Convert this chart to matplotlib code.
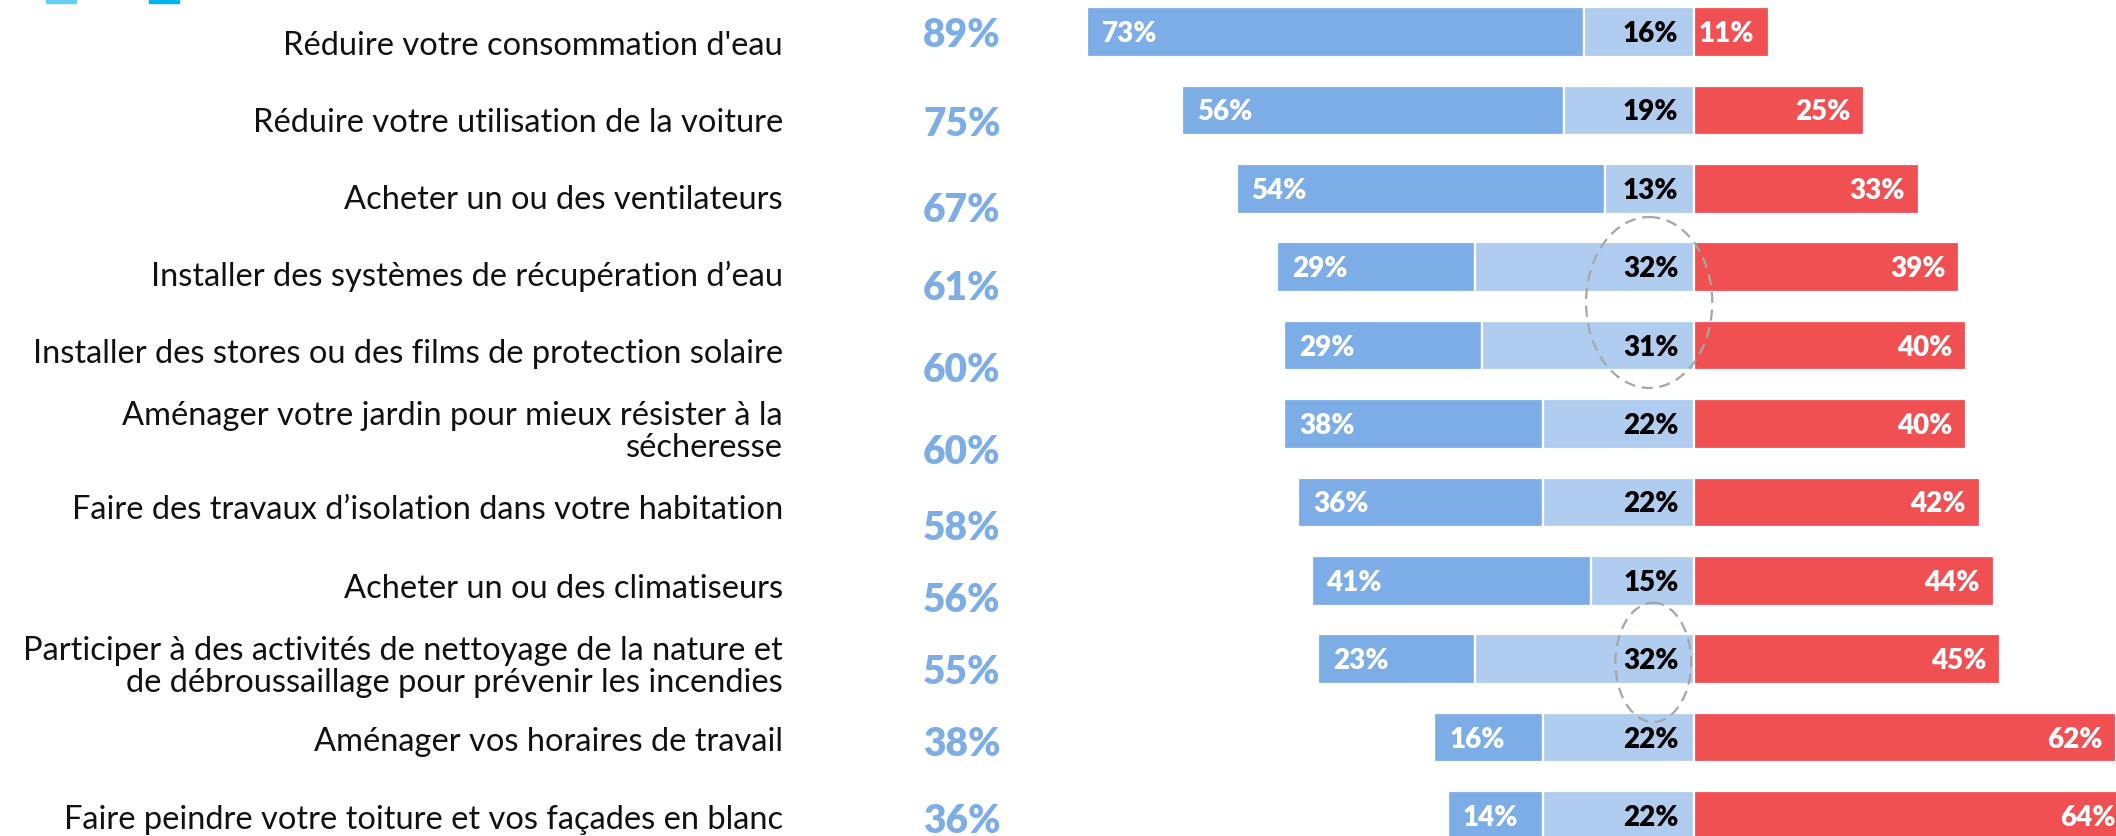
import matplotlib
matplotlib.use("Agg")
import matplotlib.pyplot as plt
from matplotlib.patches import Ellipse, Rectangle
from matplotlib.transforms import offset_copy

# ---------------- data ----------------
categories = [
    "Réduire votre consommation d'eau",
    "Réduire votre utilisation de la voiture",
    "Acheter un ou des ventilateurs",
    "Installer des systèmes de récupération d’eau",
    "Installer des stores ou des films de protection solaire",
    "Aménager votre jardin pour mieux résister à la\nsécheresse",
    "Faire des travaux d’isolation dans votre habitation",
    "Acheter un ou des climatiseurs",
    "Participer à des activités de nettoyage de la nature et\nde débroussaillage pour prévenir les incendies",
    "Aménager vos horaires de travail",
    "Faire peindre votre toiture et vos façades en blanc",
]
oui_deja = [73, 56, 54, 29, 29, 38, 36, 41, 23, 16, 14]
oui_envisage = [16, 19, 13, 32, 31, 22, 22, 15, 32, 22, 22]
non = [11, 25, 33, 39, 40, 40, 42, 44, 45, 62, 64]
totals = [89, 75, 67, 61, 60, 60, 58, 56, 55, 38, 36]

# ---------------- layout ----------------
W, H = 2116, 836
C_BLUE = "#7DADE6"
C_LIGHT = "#B0CDF0"
C_RED = "#F05052"

fig = plt.figure(figsize=(W / 100, H / 100), dpi=100)
ax = fig.add_axes([0, 0, 1, 1])
ax.set_axis_off()

px_per_pct = 6.82
x0 = 1693.5
row0 = 32.0
row_h = 78.4
ax.set_xlim(-x0 / px_per_pct, (W - x0) / px_per_pct)
ax.set_ylim((H - row0) / row_h, -row0 / row_h)

ypos = list(range(len(categories)))
bh = 49.5 / row_h
edge = dict(edgecolor="white", linewidth=1.6)

left_blue = [-(a + b) for a, b in zip(oui_deja, oui_envisage)]
left_light = [-b for b in oui_envisage]
ax.barh(ypos, oui_deja, left=left_blue, height=bh, color=C_BLUE, **edge)
ax.barh(ypos, oui_envisage, left=left_light, height=bh, color=C_LIGHT, **edge)
ax.barh(ypos, non, left=0, height=bh, color=C_RED, **edge)

bar_font = dict(family=["Lato", "DejaVu Sans"], fontweight="heavy", fontsize=20)
base_off = -10  # px: baseline below bar centre


def tr(dx, dy):
    return offset_copy(ax.transData, fig=fig, x=dx, y=dy, units="dots")


for i in ypos:
    ax.text(left_blue[i], i, f"{oui_deja[i]}%", transform=tr(15, base_off),
            ha="left", va="baseline", color="white", **bar_font)
    ax.text(0, i, f"{oui_envisage[i]}%", transform=tr(-15, base_off),
            ha="right", va="baseline", color="black", **bar_font)
    ax.text(non[i], i, f"{non[i]}%", transform=tr(-14, base_off),
            ha="right", va="baseline", color="white", **bar_font)

# total percentages (own vertical rhythm in the original)
pct_center_off = [0.5, 11.1, 18.2, 18.3, 21.9, 25.0, 22.6, 16.7, 9.8, 3.4, 2.0]
pct_x = (962 - x0) / px_per_pct
for i in ypos:
    ax.text(pct_x, i, f"{totals[i]}%", transform=tr(0, -(pct_center_off[i] + 14.5)),
            ha="center", va="baseline", color=C_BLUE,
            family=["Lato", "DejaVu Sans"], fontweight="heavy", fontsize=28)

# category labels (last-line baseline offsets in px)
label_base_off = [23, 21.6, 20.2, 19, 17.4, 33, 16.6, 17.2, 32.8, 13.4, 13]
lab_x = (783 - x0) / px_per_pct
for i in ypos:
    ax.text(lab_x, i, categories[i], transform=tr(0, -label_base_off[i]),
            ha="right", va="baseline", multialignment="right", linespacing=1.07,
            color="#111111", family=["Lato", "DejaVu Sans"], fontweight="normal",
            fontsize=23.5)

# dashed ellipses highlighting the "envisage" scores
ell_style = dict(fill=False, edgecolor="#A6A6A6", linewidth=1.6, linestyle=(0, (5, 3)))
ax.add_patch(Ellipse((-6.5, 3.45), 18.5, 2.18, **ell_style))
ax.add_patch(Ellipse((-5.9, 8.04), 11.1, 1.52, **ell_style))

# cut-off legend swatches at the top
fig.patches.append(Rectangle((46 / W, 1 - 2.5 / H), 30 / W, 2.5 / H,
                             transform=fig.transFigure, color="#62CDF4"))
fig.patches.append(Rectangle((149 / W, 1 - 2.5 / H), 30 / W, 2.5 / H,
                             transform=fig.transFigure, color="#00B4F0"))

fig.savefig("out.png", dpi=100, facecolor="white")
